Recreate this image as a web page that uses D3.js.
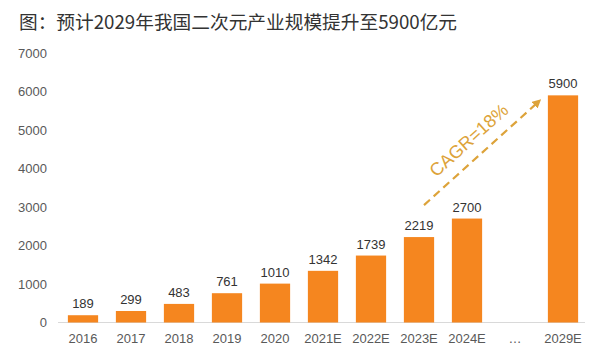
<!DOCTYPE html>
<html>
<head>
<meta charset="utf-8">
<script src="https://cdn.jsdelivr.net/npm/d3@7"></script>
<style>
  body { margin: 0; background: #fff; }
  svg { display: block; font-family: "Liberation Sans", Arial, sans-serif; }
</style>
</head>
<body>
<div id="chart"></div>
<script>
var title = "图：预计2029年我国二次元产业规模提升至5900亿元";
var years = ["2016", "2017", "2018", "2019", "2020", "2021E", "2022E", "2023E", "2024E", "…", "2029E"];
var values = [189, 299, 483, 761, 1010, 1342, 1739, 2219, 2700, null, 5900];
var yTicks = [0, 1000, 2000, 3000, 4000, 5000, 6000, 7000];
var cagrLabel = "CAGR=18%";
// arrow from just above 2023E to just before 2029E (in data units)
var arrowFrom = { cat: "2023E", value: 3050 };
var arrowTo = { cat: "2029E", value: 5720 };

var width = 598, height = 353;

var svg = d3.select("#chart").append("svg")
    .attr("width", width)
    .attr("height", height);

svg.append("text")
    .attr("x", 19)
    .attr("y", 29)
    .attr("fill", "#333")
    .style("font-family", "'Noto Sans CJK SC', sans-serif")
    .style("font-size", "18.7px")
    .text(title);

var x = d3.scaleBand()
    .domain(years)
    .range([59, 587])
    .paddingInner(0.37)
    .paddingOuter(0.185);

var y = d3.scaleLinear()
    .domain([0, 7000])
    .range([322.5, 53]);

// y axis labels
var yAxis = svg.append("g")
    .attr("transform", "translate(47,0)")
    .call(d3.axisLeft(y).tickValues(yTicks).tickFormat(d3.format("d")).tickSize(0).tickPadding(0));
yAxis.select(".domain").remove();
yAxis.selectAll("text")
    .attr("fill", "#595959")
    .style("font-size", "13px");

// x axis
var xAxis = svg.append("g")
    .attr("transform", "translate(0," + y(0) + ")")
    .call(d3.axisBottom(x).tickSize(0).tickPadding(11));
xAxis.select(".domain")
    .attr("stroke", "#d9d9d9")
    .attr("d", "M58,0H585");
xAxis.selectAll("text")
    .attr("fill", "#595959")
    .style("font-size", "13px");

var data = years.map(function(d, i) { return { cat: d, value: values[i] }; })
    .filter(function(d) { return d.value != null; });

svg.append("g").selectAll("rect")
    .data(data)
    .enter().append("rect")
    .attr("x", function(d) { return x(d.cat); })
    .attr("y", function(d) { return y(d.value); })
    .attr("width", x.bandwidth())
    .attr("height", function(d) { return y(0) - y(d.value); })
    .attr("fill", "#F5861F");

svg.append("g").selectAll("text")
    .data(data)
    .enter().append("text")
    .attr("x", function(d) { return x(d.cat) + x.bandwidth() / 2; })
    .attr("y", function(d) { return y(d.value) - 7; })
    .attr("text-anchor", "middle")
    .attr("fill", "#333")
    .style("font-size", "13px")
    .text(function(d) { return d.value; });

// CAGR arrow
var gold = "#DDA33A";
var x1 = x(arrowFrom.cat) + x.bandwidth() / 2 + 5, y1 = y(arrowFrom.value);
var x2 = x(arrowTo.cat) - 10, y2 = y(arrowTo.value);

svg.append("defs").append("marker")
    .attr("id", "arrow")
    .attr("viewBox", "0 0 10 10")
    .attr("refX", 5).attr("refY", 5)
    .attr("markerWidth", 4).attr("markerHeight", 4)
    .attr("orient", "auto")
    .append("path")
    .attr("d", "M0,0L10,5L0,10z")
    .attr("fill", gold);

svg.append("line")
    .attr("x1", x1).attr("y1", y1)
    .attr("x2", x2).attr("y2", y2)
    .attr("stroke", gold)
    .attr("stroke-width", 2.2)
    .attr("stroke-dasharray", "8,5")
    .attr("marker-end", "url(#arrow)");

var angle = Math.atan2(y2 - y1, x2 - x1) * 180 / Math.PI;
var mx = (x1 + x2) / 2 - 8, my = (y1 + y2) / 2 - 9;
svg.append("text")
    .attr("transform", "translate(" + mx + "," + my + ") rotate(" + angle + ")")
    .attr("text-anchor", "middle")
    .attr("fill", gold)
    .style("font-size", "18px")
    .text(cagrLabel);
</script>
</body>
</html>
